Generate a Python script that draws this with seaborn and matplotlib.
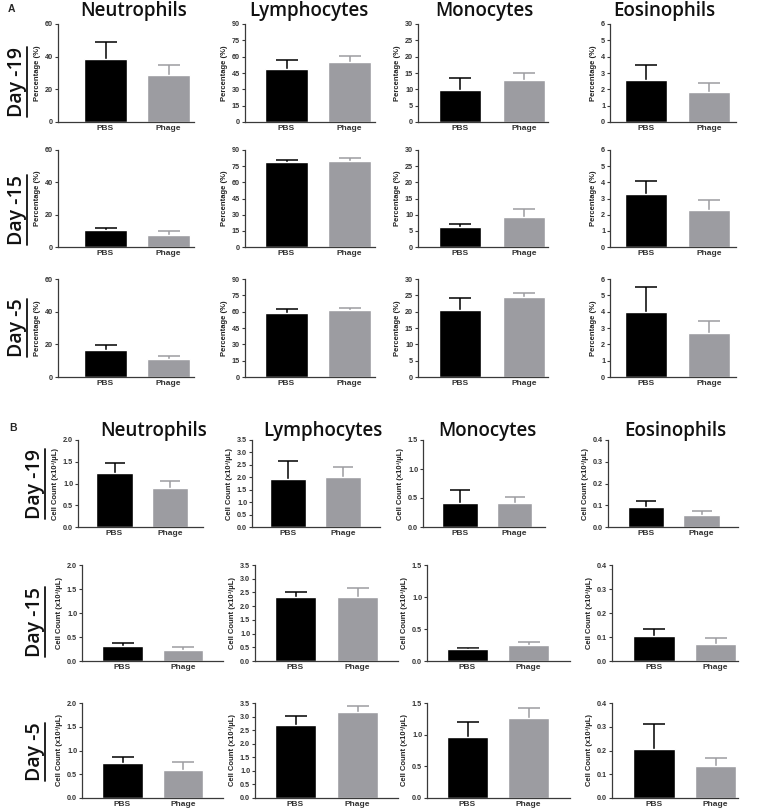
import matplotlib
matplotlib.use("Agg")
import matplotlib.pyplot as plt
from matplotlib.lines import Line2D
import seaborn as sns
import pandas as pd

sns.set_style("white")
plt.rcParams['font.family'] = ['Liberation Sans', 'DejaVu Sans']

# ---------------- data ----------------
groups = ["PBS", "Phage"]
cells = ["Neutrophils", "Lymphocytes", "Monocytes", "Eosinophils"]
days = ["Day -19", "Day -15", "Day -5"]

# Panel A: percentage (%) means, rows = days, pairs = (PBS, Phage)
pct_neut_mean = [[38.5, 29.0], [10.5, 7.3], [16.3, 11.0]]
pct_neut_sem = [[10.5, 6.0], [1.5, 2.4], [3.2, 2.0]]
pct_lymph_mean = [[48.5, 55.0], [79.0, 80.0], [59.0, 61.5]]
pct_lymph_sem = [[8.0, 5.5], [2.0, 2.5], [3.0, 2.0]]
pct_mono_mean = [[9.8, 12.9], [6.3, 9.4], [20.5, 24.4]]
pct_mono_sem = [[3.7, 2.2], [0.9, 2.2], [3.7, 1.3]]
pct_eos_mean = [[2.6, 1.85], [3.3, 2.3], [4.0, 2.7]]
pct_eos_sem = [[0.9, 0.55], [0.8, 0.6], [1.5, 0.7]]

pct_ymax = [60, 90, 30, 6]
pct_ystep = [20, 15, 5, 1]

# Panel B: cell count (x10^3/uL)
cnt_neut_mean = [[1.23, 0.90], [0.32, 0.23], [0.73, 0.60]]
cnt_neut_sem = [[0.24, 0.16], [0.06, 0.07], [0.14, 0.16]]
cnt_lymph_mean = [[1.95, 2.03], [2.33, 2.35], [2.70, 3.18]]
cnt_lymph_sem = [[0.70, 0.40], [0.17, 0.30], [0.33, 0.20]]
cnt_mono_mean = [[0.42, 0.42], [0.18, 0.25], [0.96, 1.27]]
cnt_mono_sem = [[0.21, 0.09], [0.03, 0.05], [0.24, 0.15]]
cnt_eos_mean = [[0.090, 0.055], [0.103, 0.070], [0.205, 0.136]]
cnt_eos_sem = [[0.030, 0.017], [0.030, 0.025], [0.107, 0.032]]

cnt_ymax = [2.0, 3.5, 1.5, 0.4]
cnt_ystep = [0.5, 0.5, 0.5, 0.1]

pct_means = [pct_neut_mean, pct_lymph_mean, pct_mono_mean, pct_eos_mean]
pct_sems = [pct_neut_sem, pct_lymph_sem, pct_mono_sem, pct_eos_sem]
cnt_means = [cnt_neut_mean, cnt_lymph_mean, cnt_mono_mean, cnt_eos_mean]
cnt_sems = [cnt_neut_sem, cnt_lymph_sem, cnt_mono_sem, cnt_eos_sem]

# ---------------- layout (pixels) ----------------
W, H = 758, 811
fig = plt.figure(figsize=(W / 100, H / 100), dpi=100)
fig.patch.set_facecolor("white")

BLACK = "#000000"
GRAY = "#9c9ca1"
SPINE = "#3a3a3a"

A_rows = [(24, 122), (150, 247), (279, 377)]
A_cols = [(58, 194, 105.5, 63), (245, 375, 286.5, 63), (418, 548, 460, 64), (610, 736, 646, 63)]
B_rows = [(440, 527), (565, 661), (703, 798)]
B_cols_r1 = [(78, 203, 114.5, 55.5), (252, 380, 288, 55), (423, 545, 460, 54.5), (608, 738, 646, 55.5)]
B_cols_r23 = [(82, 223, 122.5, 60.5), (255, 398, 295.5, 62), (427, 570, 467.5, 61), (612, 738, 654, 61.5)]


def make_ax(left, right, top, bottom, c0, sp):
    ax = fig.add_axes([left / W, 1 - bottom / H, (right - left) / W, (bottom - top) / H])
    xl = ((left - c0) / sp, (right - c0) / sp)
    return ax, xl


def draw(ax, xl, means, sems, ymax, ystep, ylabel, width, capsize):
    df = pd.DataFrame({"group": groups, "value": means})
    sns.barplot(data=df, x="group", y="value", hue="group", palette=[BLACK, GRAY],
                legend=False, width=width, ax=ax, errorbar=None, saturation=1,
                zorder=2)
    for i, (m, s) in enumerate(zip(means, sems)):
        col = BLACK if i == 0 else GRAY
        ax.errorbar([i], [m], yerr=[s], fmt="none", ecolor=col,
                    elinewidth=1.1, capsize=capsize, capthick=1.1, zorder=1)
    ax.set_xlim(*xl)
    ax.set_ylim(0, ymax)
    n = int(round(ymax / ystep))
    ticks = [ystep * k for k in range(n + 1)]
    ax.set_yticks(ticks)
    if ystep < 1:
        ax.set_yticklabels([f"{t:.1f}" for t in ticks])
    else:
        ax.set_yticklabels([f"{int(round(t))}" for t in ticks])
    ax.set_xlabel("")
    ax.set_ylabel(ylabel, fontsize=5.5, fontweight="bold", labelpad=3, color="#222222")
    for sp in ["top", "right"]:
        ax.spines[sp].set_visible(False)
    for sp in ["left", "bottom"]:
        ax.spines[sp].set_color(SPINE)
        ax.spines[sp].set_linewidth(0.9)
        ax.spines[sp].set_zorder(3)
    ax.tick_params(axis="y", direction="out", length=2.5, width=0.8, color=SPINE,
                   labelsize=5.2, pad=1, labelcolor="#333333", left=True)
    ax.tick_params(axis="x", length=0, labelsize=6, pad=2, labelcolor="#333333")
    for lab in ax.get_yticklabels() + ax.get_xticklabels():
        lab.set_fontweight("bold")
    ax.set_facecolor("white")


for r in range(3):
    for c in range(4):
        l, rr, c0, sp = A_cols[c]
        t, b = A_rows[r]
        ax, xl = make_ax(l, rr, t, b, c0, sp)
        draw(ax, xl, pct_means[c][r], pct_sems[c][r], pct_ymax[c], pct_ystep[c],
             "Percentage (%)", 0.67, 7.8)

for r in range(3):
    cols = B_cols_r1 if r == 0 else B_cols_r23
    for c in range(4):
        l, rr, c0, sp = cols[c]
        t, b = B_rows[r]
        ax, xl = make_ax(l, rr, t, b, c0, sp)
        draw(ax, xl, cnt_means[c][r], cnt_sems[c][r], cnt_ymax[c], cnt_ystep[c],
             "Cell Count (x10³/µL)", 0.66 if r == 0 else 0.67, 7.5 if r == 0 else 7.8)

# ---------------- titles & labels ----------------
TFONT = ["Open Sans", "DejaVu Sans"]
A_title_x = [134, 309, 484, 664]
B_title_x = [154, 323, 487, 675]
for c, name in enumerate(cells):
    fig.text(A_title_x[c] / W, 1 - 16 / H, name, ha="center", va="baseline",
             fontsize=13.5, family=TFONT, fontweight="semibold", color="#111111")
    fig.text(B_title_x[c] / W, 1 - 436 / H, name, ha="center", va="baseline",
             fontsize=13.5, family=TFONT, fontweight="semibold", color="#111111")

fig.text(8 / W, 1 - 9 / H, "A", fontsize=7.5, fontweight="bold", va="center", ha="left")
fig.text(9 / W, 1 - 428 / H, "B", fontsize=7.5, fontweight="bold", va="center", ha="left")

day_texts = []
A_day_y = [82, 210, 328]
B_day_y = [484, 622, 752]
for r, d in enumerate(days):
    t1 = fig.text(17 / W, 1 - A_day_y[r] / H, d, rotation=90, ha="center", va="center",
                  fontsize=14, family=TFONT, fontweight="semibold", color="#111111")
    t2 = fig.text(35 / W, 1 - B_day_y[r] / H, d, rotation=90, ha="center", va="center",
                  fontsize=14, family=TFONT, fontweight="semibold", color="#111111")
    day_texts += [t1, t2]

fig.canvas.draw()
for t in day_texts:
    bb = t.get_window_extent()
    x = bb.x1 - 0.5
    fig.add_artist(Line2D([x / W, x / W], [bb.y0 / H, bb.y1 / H], color="#111111",
                          lw=1.3, transform=fig.transFigure))

fig.savefig("out.png", dpi=100, facecolor="white")
